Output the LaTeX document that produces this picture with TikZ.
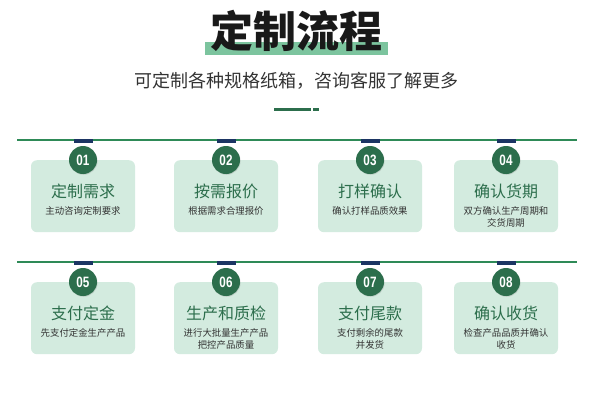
\documentclass[tikz,border=0pt]{standalone}
\usepackage{fontspec}
\setmainfont{Noto Sans CJK SC}
\newfontfamily\numfont[FakeStretch=0.78]{Liberation Sans}
\usetikzlibrary{positioning, shadows}
\definecolor{leaf}{HTML}{2C6E4C}
\definecolor{mint}{HTML}{D3EBDF}
\definecolor{hilite}{HTML}{7CC49E}
\definecolor{rowgreen}{HTML}{2E8A57}
\definecolor{navy}{HTML}{1B3563}
\definecolor{ink}{HTML}{333333}

\begin{document}
\begin{tikzpicture}[x=1pt, y=-1pt,
      card/.style={fill=mint, rounded corners=6pt, minimum width=104pt,
                   minimum height=72pt, anchor=north, inner sep=0pt},
      num/.style={circle, fill=leaf, minimum size=28pt, inner sep=0pt, text=white,
                  font=\numfont\bfseries\fontsize{15}{15}\selectfont,
                  drop shadow={opacity=0.25, shadow xshift=0.6pt, shadow yshift=-0.8pt}},
      tab/.style={fill=navy, minimum width=19pt, minimum height=4pt, inner sep=0pt},
      head/.style={text=leaf, font=\fontsize{16}{16}\selectfont},
      note/.style={text=ink, align=center, anchor=north, inner sep=0pt,
                   font=\fontsize{9.4}{12}\selectfont},
      rowline/.style={rowgreen, line width=1.5pt}]
    \useasboundingbox (0,0) rectangle (594,408);
    % title
    \fill[hilite] (205,42) rectangle (388,55);
    \node[font=\bfseries\fontsize{43}{43}\selectfont, text=black!90] (title) at (296,31) {定制流程};
    \node[text=ink, font=\fontsize{18}{18}\selectfont, below=13pt of title] (sub) {可定制各种规格纸箱，咨询客服了解更多};
    \fill[leaf] (274,108) rectangle (311,111);
    \fill[leaf] (313,108) rectangle (319,111);
    % rows
    \coordinate (la) at (17,140);  \coordinate (ra) at (577,140);
    \coordinate (lb) at (17,262);  \coordinate (rb) at (577,262);
    \draw[rowline] (la) -- (ra);
    \draw[rowline] (lb) -- (rb);
    \foreach \i/\x/\y/\h/\t in {
        1/83/140/定制需求/主动咨询定制要求,
        2/226/140/按需报价/根据需求合理报价,
        3/370/140/打样确认/确认打样品质效果,
        4/506/140/确认货期/双方确认生产周期和\\交货周期,
        5/83/262/支付定金/先支付定金生产产品,
        6/226/262/生产和质检/进行大批量生产产品\\把控产品质量,
        7/370/262/支付尾款/支付剩余的尾款\\并发货,
        8/506/262/确认收货/检查产品品质并确认\\收货}{
      \node[card] (card\i) at (\x,\y+20) {};
      \node[tab] (tab\i) at (\x,\y+1) {};
      \node[num] (num\i) at (card\i.north) {0\i};
      \node[head, below=31pt of card\i.north, anchor=center] (head\i) {\h};
      \node[note, below=46pt of card\i.north] (note\i) {\t};
    }
\end{tikzpicture}
\end{document}
